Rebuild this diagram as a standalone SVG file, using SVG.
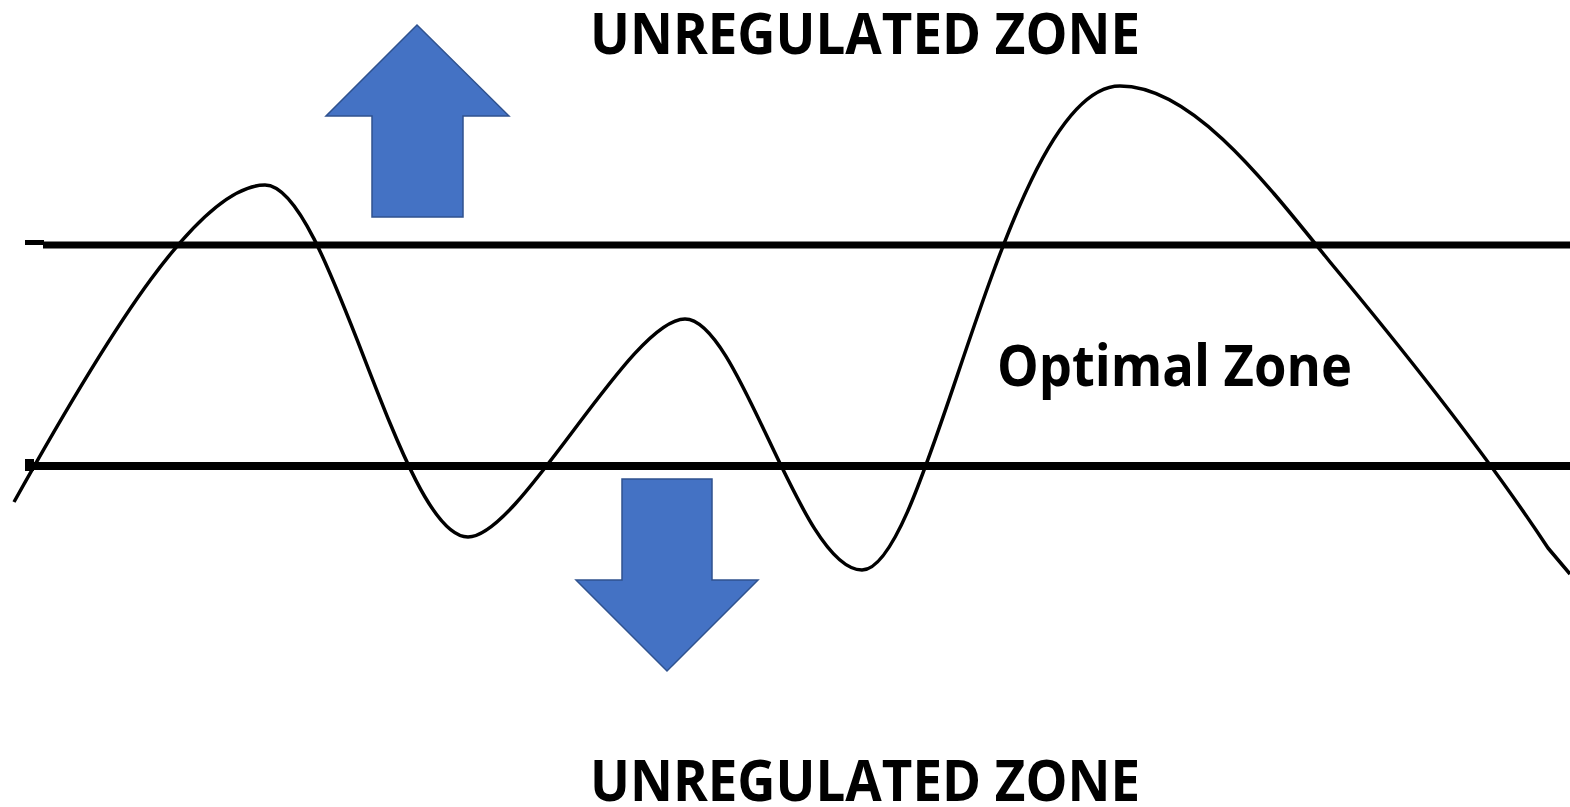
<svg xmlns="http://www.w3.org/2000/svg" width="1570" height="807" viewBox="0 0 1570 807">
<style>
.lbl{font-family:"Open Sans","Noto Sans","Liberation Sans",sans-serif;font-weight:bold;fill:#000}
.arrow{fill:#4472C4;stroke:#2F528F;stroke-width:1.5;stroke-linejoin:miter}
.bound{stroke:#000;fill:none}
.wave{fill:none;stroke:#000;stroke-width:3.5;stroke-linejoin:round}
</style>
<rect width="1570" height="807" fill="#fff"/>
<g id="boundaries">
<rect x="25" y="240" width="19" height="5" fill="#000"/>
<line class="bound" x1="43" y1="245" x2="1570" y2="245" stroke-width="7"/>
<rect x="25" y="459" width="9" height="12" fill="#000"/>
<line class="bound" x1="25" y1="466" x2="1570" y2="466" stroke-width="8"/>
</g>
<g id="connectors">
<path class="wave" d="M14 502 C110 330 200 185 265 185 C330 185 400 537 468 537 C520 537 630 319 685 319 C740 319 800 570 862 570 C930 570 1005 86 1120 86 C1190 86 1260 175 1330 262 C1420 370 1500 475 1548 548 L1570 574"/>
</g>
<g id="arrow-up">
<polygon class="arrow" points="417,25 509,116 463,116 463,217 372,217 372,116 326,116"/>
</g>
<g id="arrow-down">
<polygon class="arrow" points="622,479 712,479 712,580 758,580 667,671 576,580 622,580"/>
</g>
<g id="label-top"><text class="lbl" x="590" y="54" font-size="57" textLength="550" lengthAdjust="spacingAndGlyphs">UNREGULATED ZONE</text></g>
<g id="label-optimal"><text class="lbl" x="997" y="386" font-size="57" textLength="355" lengthAdjust="spacingAndGlyphs">Optimal Zone</text></g>
<g id="label-bottom"><text class="lbl" x="590" y="801" font-size="57" textLength="550" lengthAdjust="spacingAndGlyphs">UNREGULATED ZONE</text></g>
</svg>
